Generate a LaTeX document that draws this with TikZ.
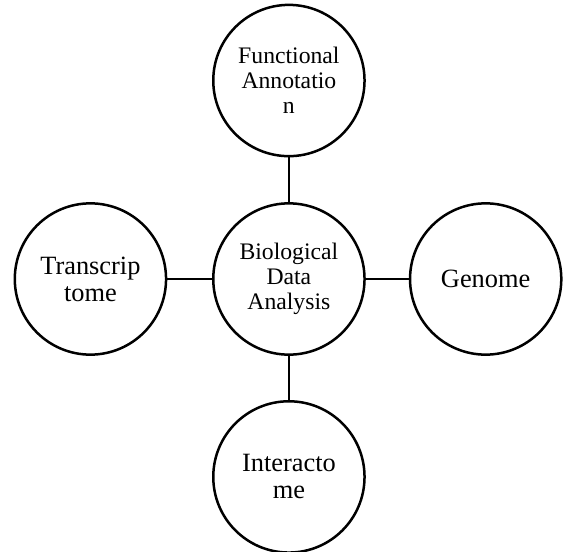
\documentclass[tikz,border=0pt]{standalone}
\usepackage{fontspec}
\setmainfont{Liberation Serif}
\begin{document}
\begin{tikzpicture}[auto,-]
	\tikzstyle{cvertex}=[circle,draw=black,line width=1.25pt,minimum size=2.66cm,inner sep=0pt,align=center]
	%\tikzstyle{cvertex}=[circle,draw=black,thick,minimum size=2.7cm,inner sep=0pt]
	\tikzstyle{smalltext}=[font=\fontsize{11.85}{12.5}\selectfont]
	\tikzstyle{bigtext}=[font=\fontsize{13.2}{13.5}\selectfont]
	\useasboundingbox (-5.08,-4.80) rectangle (4.855,4.906);
	\node[cvertex,smalltext] (D-hub) at (0,0) {Biological\\Data\\Analysis};
	\node[cvertex,smalltext] (D-func) at (0,3.49) {Functional\\Annotatio\\n};
	\node[cvertex,bigtext] (D-trans) at (-3.49,0) {Transcrip\\tome};
	\node[cvertex,bigtext] (D-genome) at (3.46,0) {Genome};
	\node[cvertex,bigtext] (D-inter) at (0,-3.48) {Interacto\\me};
	\draw[line width=1.25pt] (D-hub) -- (D-func);
	\draw[line width=1.25pt] (D-hub) -- (D-trans);
	\draw[line width=1.25pt] (D-hub) -- (D-genome);
	\draw[line width=1.25pt] (D-hub) -- (D-inter);
\end{tikzpicture}
\end{document}
